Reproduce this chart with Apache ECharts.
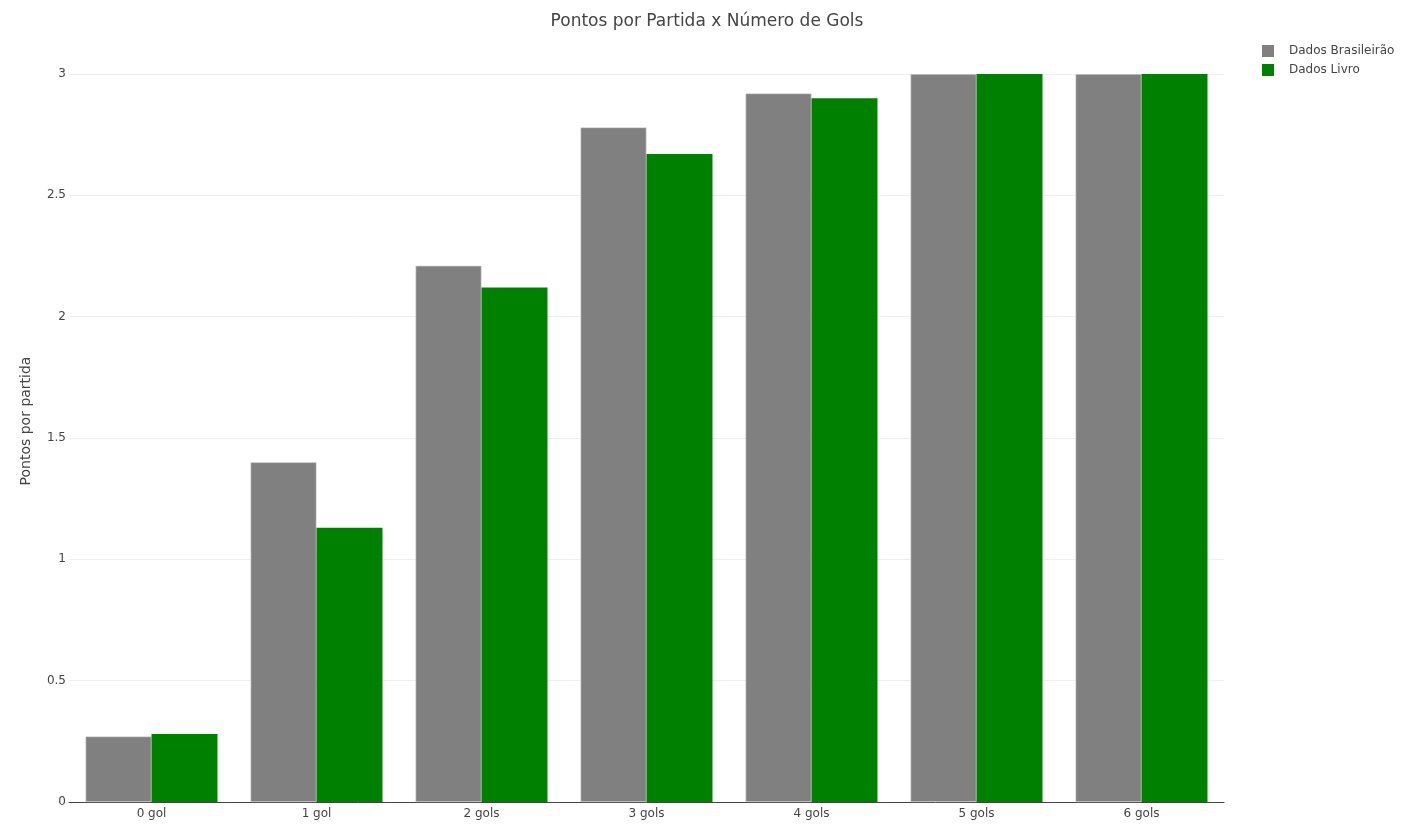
<!DOCTYPE html>
<html><head><meta charset="utf-8">
<script src="https://cdn.jsdelivr.net/npm/echarts@6/dist/echarts.min.js"></script>
<style>html,body{margin:0;padding:0;background:#fff}#c{width:1414px;height:840px}</style>
</head><body><div id="c"></div>
<script>
const categories = ['0 gol','1 gol','2 gols','3 gols','4 gols','5 gols','6 gols'];
const brasileirao = [0.27, 1.40, 2.21, 2.78, 2.92, 3, 3];
const livro = [0.28, 1.13, 2.12, 2.67, 2.90, 3, 3];
const font = 'DejaVu Sans, Verdana, sans-serif';
const chart = echarts.init(document.getElementById('c'));
chart.setOption({
  animation: false,
  textStyle: {fontFamily: font},
  title: {text: 'Pontos por Partida x Número de Gols', left: 'center', top: 8,
    textStyle: {fontFamily: font, fontSize: 17, fontWeight: 'normal', color: '#444'}},
  legend: {orient: 'vertical', left: 1262, top: 45, padding: 0, itemWidth: 12, itemHeight: 12, itemGap: 7,
    icon: 'rect', itemStyle: {borderWidth: 0},
    textStyle: {fontFamily: font, fontSize: 12, color: '#444', padding: [2,0,0,10]},
    data: ['Dados Brasileirão','Dados Livro']},
  grid: {left: 69, right: 190, top: 74, bottom: 38},
  xAxis: {type: 'category', data: categories,
    axisLine: {lineStyle: {color: '#444', width: 1}}, axisTick: {show: false},
    axisLabel: {fontFamily: font, fontSize: 12, color: '#444', margin: 6}},
  yAxis: {type: 'value', min: 0, max: 3, interval: 0.5,
    name: 'Pontos por partida', nameLocation: 'middle', nameGap: 36, nameRotate: 90,
    nameTextStyle: {fontFamily: font, fontSize: 14, color: '#444', padding: [0,0,0,34]},
    axisLine: {show: false}, axisTick: {show: false},
    axisLabel: {fontFamily: font, fontSize: 12, color: '#444', margin: 3, padding: [4,0,0,0]},
    splitLine: {lineStyle: {color: '#eee'}}},
  series: [
    {name: 'Dados Brasileirão', type: 'bar', data: brasileirao, barGap: '0%', barCategoryGap: '20%',
      itemStyle: {color: '#808080', borderColor: '#dcdcdc', borderWidth: 0.6}},
    {name: 'Dados Livro', type: 'bar', data: livro, barGap: '0%', barCategoryGap: '20%',
      itemStyle: {color: '#008000'}}
  ]
});
</script></body></html>
